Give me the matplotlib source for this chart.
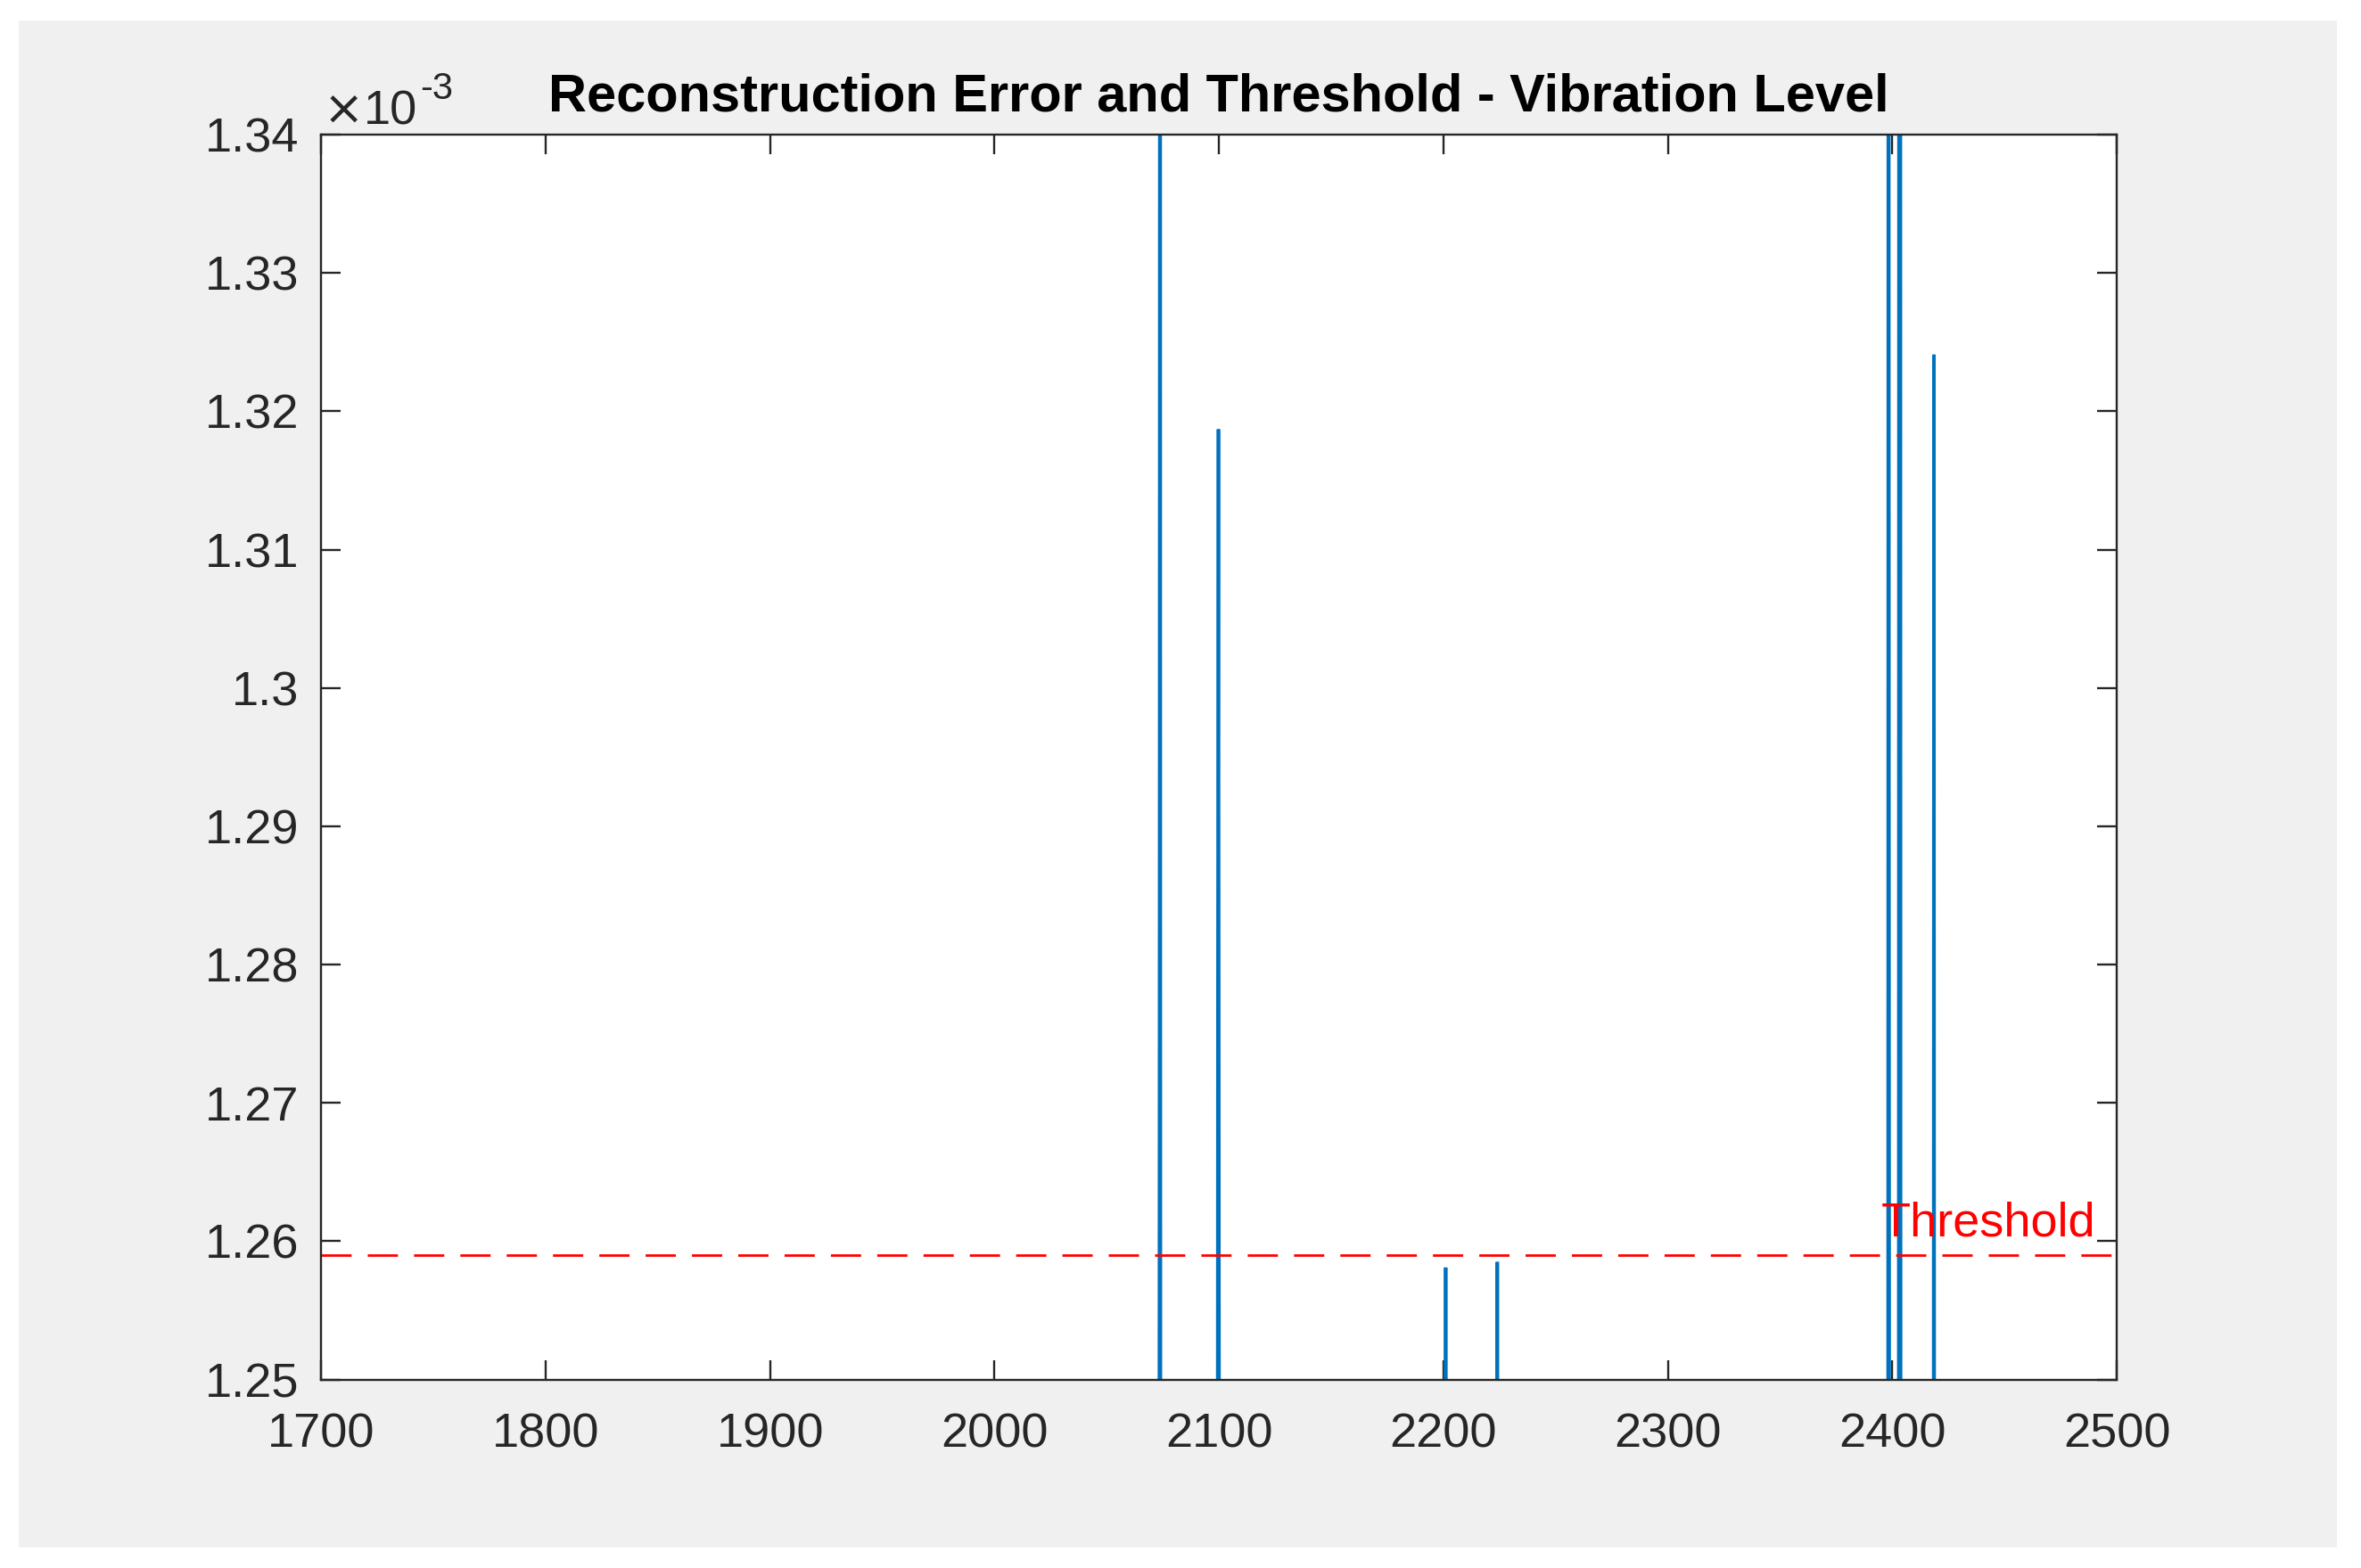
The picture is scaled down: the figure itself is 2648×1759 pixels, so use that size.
import matplotlib
matplotlib.use('Agg')
import matplotlib.pyplot as plt
from matplotlib.patches import Rectangle
from matplotlib.ticker import FuncFormatter, MultipleLocator

# sample index / reconstruction error (only the part around the visible spikes,
# the rest of the series lies below the y-limits)
sample_x = [2073.25, 2073.5, 2073.75, 2074.0,
            2099.25, 2099.5, 2099.75, 2100.0, 2100.25,
            2200.75, 2201.0, 2201.25,
            2223.75, 2224.0, 2224.25,
            2398.0, 2398.25, 2398.5, 2398.75,
            2402.75, 2403.0, 2403.25, 2403.5, 2403.75,
            2418.25, 2418.5, 2418.75]
recon_err = [1.200e-3, 1.2778e-3, 1.450e-3, 1.200e-3,
             1.200e-3, 1.2792e-3, 1.3187e-3, 1.2611e-3, 1.200e-3,
             1.200e-3, 1.2581e-3, 1.200e-3,
             1.200e-3, 1.2585e-3, 1.200e-3,
             1.200e-3, 1.450e-3, 1.2930e-3, 1.200e-3,
             1.200e-3, 1.450e-3, 1.200e-3, 1.450e-3, 1.200e-3,
             1.200e-3, 1.3241e-3, 1.200e-3]
threshold = 1.2590e-3

x_range = [1700, 2500]
y_range = [1.25e-3, 1.34e-3]

plt.rcParams['font.family'] = ['Liberation Sans', 'DejaVu Sans']

dark = '#262626'
fs = 19.5

fig = plt.figure(figsize=(13.24, 8.795), dpi=200, facecolor='white')
# grey matlab-like figure area inside a thin white border
fig.add_artist(Rectangle((21 / 2648, 1 - 1736 / 1759), 2600 / 2648, 1713 / 1759,
                         transform=fig.transFigure, facecolor='#f0f0f0',
                         edgecolor='none', zorder=-10))

ax = fig.add_axes([0.1360, 0.1202, 0.7606, 0.7939])
ax.set_facecolor('white')

ax.plot(sample_x, recon_err, color='#0072BD', linewidth=1.35, solid_joinstyle='miter')
ax.plot(x_range, [threshold, threshold], color='#FF0000', linewidth=1.0,
        dashes=(12.2, 6.5))
ax.annotate('Threshold', xy=(1, threshold), xycoords=('axes fraction', 'data'),
            xytext=(-8.6, 7.6), textcoords='offset points',
            ha='right', va='baseline', color='#FF0000', fontsize=fs)

ax.set_xlim(x_range)
ax.set_ylim(y_range)
ax.xaxis.set_major_locator(MultipleLocator(100))
ax.yaxis.set_major_locator(MultipleLocator(0.01e-3))
ax.yaxis.set_major_formatter(FuncFormatter(lambda v, p: f'{v * 1e3:g}'))

ax.tick_params(direction='in', top=True, right=True, length=8, width=0.85,
               colors=dark, labelsize=fs)
ax.tick_params(axis='x', pad=13.3)
ax.tick_params(axis='y', pad=9)
for s in ax.spines.values():
    s.set_linewidth(0.85)
    s.set_color(dark)

# exponent label in the top left corner, matlab style
times = ax.annotate('×', xy=(0, 1), xycoords='axes fraction',
                    xytext=(1.0, 4.3), textcoords='offset points',
                    ha='left', va='baseline', color=dark, fontsize=fs,
                    family='DejaVu Sans')
base = ax.annotate('10', xy=(1, 1), xycoords=(times, 'axes fraction'),
                   xytext=(0, 4.3), textcoords='offset points',
                   ha='left', va='baseline', color=dark, fontsize=fs)
ax.annotate('-3', xy=(1, 1), xycoords=(base, 'axes fraction'),
            xytext=(1, 14.4), textcoords='offset points',
            ha='left', va='baseline', color=dark, fontsize=15)

ax.set_title('Reconstruction Error and Threshold - Vibration Level',
             fontsize=fs * 1.1, fontweight='bold', color='black', pad=9.7)

plt.savefig('out.png', dpi=200, facecolor=fig.get_facecolor())
